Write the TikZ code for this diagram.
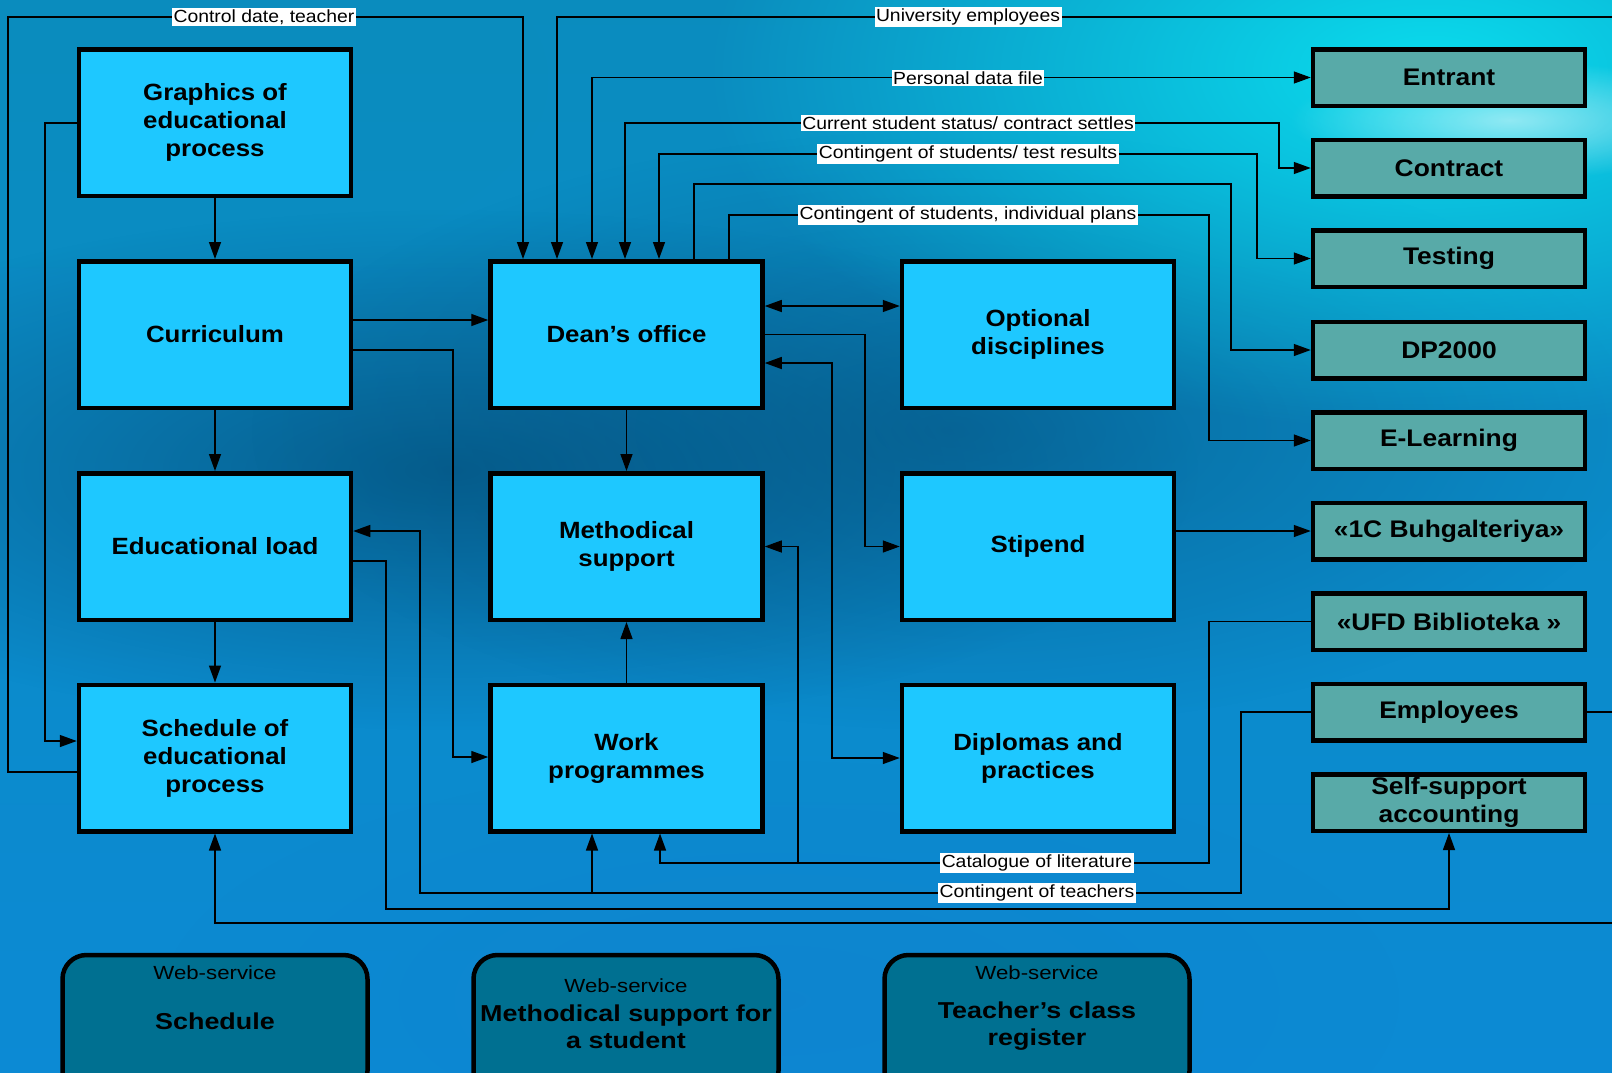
\documentclass[tikz,border=0pt]{standalone}
\usepackage{fontspec}
\setmainfont{Liberation Sans}[FakeStretch=1.1]
\newfontfamily\wsfont{Liberation Sans}[FakeStretch=1.17]
\usetikzlibrary{arrows.meta,fadings}
\definecolor{cyanbox}{RGB}{30,200,255}
\definecolor{tealbox}{RGB}{88,170,168}
\definecolor{wsfill}{RGB}{0,112,145}
\definecolor{bgtop}{RGB}{10,140,190}
\definecolor{bgmid}{RGB}{4,82,132}
\definecolor{bgbot}{RGB}{12,138,212}
\definecolor{glowc}{RGB}{10,225,240}
\tikzfading[name=radfade, inner color=transparent!0, outer color=transparent!100]
\tikzset{
  mainbox/.style={draw=black, line width=4.5pt, fill=cyanbox, minimum width=272pt, minimum height=146.5pt, align=center, inner sep=0pt, font=\fontsize{23.5}{28}\selectfont\bfseries},
  extbox/.style={draw=black, line width=4.5pt, fill=tealbox, minimum width=272pt, minimum height=56.5pt, align=center, inner sep=0pt, font=\fontsize{24}{27.5}\selectfont\bfseries},
  wsbox/.style={draw=black, line width=4.5pt, fill=wsfill, rounded corners=24pt, minimum width=305pt, minimum height=140pt},
  wssmall/.style={font=\wsfont\fontsize{19}{22}\selectfont, inner sep=0pt},
  wsbig/.style={font=\wsfont\fontsize{23}{27}\selectfont\bfseries, align=center, inner sep=0pt},
  conn/.style={draw=black, line width=1.4pt, -{Triangle[length=17pt,width=12pt]}},
  dconn/.style={draw=black, line width=1.4pt, {Triangle[length=17pt,width=12pt]}-{Triangle[length=17pt,width=12pt]}},
  plainline/.style={draw=black, line width=1.4pt},
  lbl/.style={fill=white, inner sep=1.5pt, font=\fontsize{17.6}{19}\selectfont, text=black},
}
\begin{document}
\begin{tikzpicture}[x=1pt,y=-1pt]
\useasboundingbox (0,0) rectangle (1612,1072);
\clip (0,0) rectangle (1612,1072);
% background
\shade[top color=bgtop, middle color=bgmid, bottom color=bgbot] (0,0) rectangle (1612,1072);
\fill[bgmid!80!black, path fading=radfade, fill opacity=0.6] (450,470) ellipse (750 and 260);
\fill[bgmid!85!black, path fading=radfade, fill opacity=0.45] (950,430) ellipse (700 and 300);
\fill[glowc, path fading=radfade, fill opacity=0.95] (1430,70) ellipse (720 and 360);
\fill[white, path fading=radfade, fill opacity=0.55] (1510,120) ellipse (220 and 60);
\fill[cyan!60!blue, path fading=radfade, fill opacity=0.35] (780,1000) ellipse (620 and 240);
\fill[bgtop, path fading=radfade, fill opacity=0.5] (150,80) ellipse (400 and 200);

% main boxes
\node[mainbox] (g) at (215,122.5) {Graphics of\\educational\\process};
\node[mainbox] (cur) at (215,334.5) {Curriculum};
\node[mainbox] (el) at (215,546.5) {Educational load};
\node[mainbox] (sch) at (215,758) {Schedule of\\educational\\process};
\node[mainbox] (dean) at (626.5,334.5) {Dean’s office};
\node[mainbox] (ms) at (626.5,546.5) {Methodical\\support};
\node[mainbox] (wp) at (626.5,758) {Work\\programmes};
\node[mainbox] (opt) at (1038,334.5) {Optional\\disciplines};
\node[mainbox] (stip) at (1038,546.5) {Stipend};
\node[mainbox] (dip) at (1038,758) {Diplomas and\\practices};

% external systems
\node[extbox] (ent) at (1449,77.5) {Entrant};
\node[extbox] (con) at (1449,168) {Contract};
\node[extbox] (tst) at (1449,258.5) {Testing};
\node[extbox] (dp) at (1449,350) {DP2000};
\node[extbox] (elr) at (1449,440.5) {E-Learning};
\node[extbox] (onec) at (1449,531) {«1C Buhgalteriya»};
\node[extbox] (ufd) at (1449,621.5) {«UFD Biblioteka »};
\node[extbox] (emp) at (1449,712) {Employees};
\node[extbox] (ssa) at (1449,802.5) {Self-support\\accounting};

% web services
\node[wsbox] (ws1) at (215,1025) {};
\node[wssmall] (ws1a) at (215,973) {Web-service};
\node[wsbig] (ws1b) at (215,1021) {Schedule};
\node[wsbox] (ws2) at (626,1025) {};
\node[wssmall] (ws2a) at (626,986) {Web-service};
\node[wsbig] (ws2b) at (626,1026.5) {Methodical support for\\a student};
\node[wsbox] (ws3) at (1037,1025) {};
\node[wssmall] (ws3a) at (1037,973) {Web-service};
\node[wsbig] (ws3b) at (1037,1026.5) {Teacher’s class\\register};

% coordinates
\coordinate (jt) at (592,893);
\coordinate (jc) at (798,863);
\coordinate (edgeB) at (1612,923);
\coordinate (edgeT) at (1612,17);
\coordinate (edgeE) at (1612,712);

% connectors
\draw[conn] (g.south) -- (cur.north);
\draw[conn] (cur.south) -- (el.north);
\draw[conn] (el.south) -- (sch.north);
\draw[conn] (sch.west |- 0,772) -| (8,17) -| (523,0 |- dean.north);
\draw[conn] (g.west |- 0,123) -| (45,741) -- (sch.west |- 0,741);
\draw[conn] (cur.east |- 0,320) -- (dean.west |- 0,320);
\draw[conn] (cur.east |- 0,350) -| (453,757) -- (wp.west |- 0,757);
\draw[conn] (emp.west) -| (1241,893) -| (420,531) -- (el.east |- 0,531);
\draw[conn] (jt) -- (jt |- wp.south);
\draw[conn] (el.east |- 0,561) -| (386,909) -| (ssa.south);
\draw[conn] (edgeB) -| (sch.south);
\draw[conn] (ufd.west) -| (1209,863) -| (660,0 |- wp.south);
\draw[conn] (jc) |- (ms.east);
\draw[dconn] (dean.east |- 0,306) -- (opt.west |- 0,306);
\draw[conn] (dean.east) -| (865,546.5) -- (stip.west);
\draw[dconn] (dean.east |- 0,363) -| (832,758) -- (dip.west);
\draw[conn] (dean.south) -- (ms.north);
\draw[conn] (wp.north) -- (ms.south);
\draw[conn] (stip.east |- onec.west) -- (onec.west);
\draw[conn] (edgeT) -| (557,0 |- dean.north);
\draw[dconn] (592,0 |- dean.north) |- (ent.west);
\draw[dconn] (625,0 |- dean.north) |- (1279,123) |- (con.west);
\draw[dconn] (659,0 |- dean.north) |- (1257,154) |- (tst.west);
\draw[conn] (694,0 |- dean.north) |- (1231,184) |- (dp.west);
\draw[conn] (729,0 |- dean.north) |- (1209,215) |- (elr.west);
\draw[plainline] (emp.east) -- (edgeE);

% labels
\node[lbl] (l1) at (264,17) {Control date, teacher};
\node[lbl] (l2) at (968,17) {University employees};
\node[lbl] (l3) at (968,78) {Personal data file};
\node[lbl] (l4) at (968,123) {Current student status/ contract settles};
\node[lbl] (l5) at (968,154) {Contingent of students/ test results};
\node[lbl] (l6) at (968,215) {Contingent of students, individual plans};
\node[lbl] (l7) at (1037,863) {Catalogue of literature};
\node[lbl] (l8) at (1037,893) {Contingent of teachers};
\end{tikzpicture}
\end{document}
